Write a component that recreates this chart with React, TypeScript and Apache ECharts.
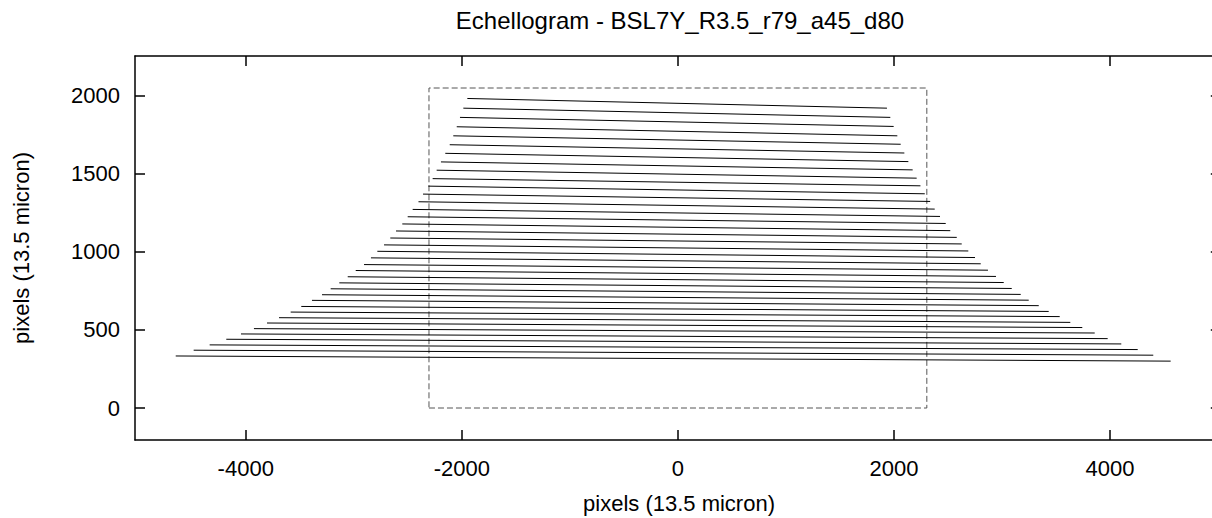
import React, { useEffect, useRef } from "react";
import * as echarts from "echarts";

// Echelle order endpoints (left end / right end), in detector pixels
const leftX = [-1949, -1986, -2017, -2047, -2079, -2112, -2153, -2193, -2233, -2270, -2310, -2359, -2401, -2455, -2501, -2551, -2609, -2662, -2720, -2782, -2841, -2905, -2982, -3056, -3134, -3214, -3294, -3387, -3486, -3584, -3692, -3803, -3924, -4044, -4180, -4334, -4482, -4648];
const leftY = [1981, 1919, 1860, 1800, 1742, 1685, 1630, 1575, 1522, 1468, 1420, 1369, 1320, 1271, 1224, 1178, 1133, 1088, 1044, 1003, 961, 918, 880, 840, 801, 763, 725, 689, 650, 614, 578, 544, 508, 474, 440, 404, 370, 333];
const rightX = [1935, 1966, 1997, 2031, 2062, 2096, 2133, 2173, 2210, 2245, 2285, 2335, 2377, 2426, 2479, 2521, 2581, 2627, 2688, 2750, 2803, 2870, 2944, 3016, 3090, 3173, 3247, 3340, 3432, 3534, 3632, 3743, 3858, 3978, 4104, 4256, 4400, 4561];
const rightY = [1919, 1860, 1802, 1742, 1688, 1632, 1577, 1524, 1471, 1422, 1371, 1322, 1273, 1226, 1181, 1135, 1092, 1050, 1005, 963, 923, 882, 842, 803, 765, 727, 690, 655, 618, 585, 548, 515, 480, 444, 410, 374, 338, 300];

// Detector outline
const detectorX = [-2304, 2304, 2304, -2304, -2304];
const detectorY = [0, 0, 2048, 2048, 0];

// Tick values
const xTicks = [-4000, -2000, 0, 2000, 4000];
const yTicks = [0, 500, 1000, 1500, 2000];

const titleText = "Echellogram - BSL7Y_R3.5_r79_a45_d80";
const axisName = "pixels (13.5 micron)";

const FONT = '"Liberation Sans", Arial, Helvetica, sans-serif';
const FS = 22;

export default function App() {
  const ref = useRef<HTMLDivElement>(null);

  useEffect(() => {
    document.body.style.margin = "0";
    if (!ref.current) return;
    const chart = echarts.init(ref.current, undefined, { renderer: "svg" });

    const xMin = -5025, xMax = 5025;
    const yMin = -204.8, yMax = 2252.8;

    const axisLine = { show: true, onZero: false, lineStyle: { color: "#000", width: 1.5 } };

    const orderSeries = leftX.map((lx, i) => ({
      type: "line",
      xAxisIndex: 0,
      yAxisIndex: 0,
      data: [
        [lx, leftY[i]],
        [rightX[i], rightY[i]],
      ],
      showSymbol: false,
      symbol: "none",
      silent: true,
      lineStyle: { color: "#000", width: 1 },
      z: 3,
    }));

    const detectorSeries = {
      type: "line",
      xAxisIndex: 0,
      yAxisIndex: 0,
      data: detectorX.map((x, i) => [x, detectorY[i]]),
      showSymbol: false,
      symbol: "none",
      silent: true,
      lineStyle: { color: "#555", width: 1, type: [6, 3] },
      z: 2,
    };

    chart.setOption({
      animation: false,
      backgroundColor: "#fff",
      grid: { left: 135, top: 56, width: 1085.8, height: 384, containLabel: false, outerBoundsMode: "none" },
      xAxis: [
        {
          type: "value",
          position: "bottom",
          min: xMin,
          max: xMax,
          axisLine,
          splitLine: { show: false },
          axisTick: { show: true, inside: true, length: 10, lineStyle: { color: "#000", width: 1.5 }, customValues: xTicks },
          axisLabel: {
            show: true,
            customValues: xTicks,
            margin: 17,
            color: "#000",
            fontSize: FS,
            fontFamily: FONT,
            formatter: (v: number) => String(v),
          },
        },
        {
          type: "value",
          position: "top",
          min: xMin,
          max: xMax,
          axisLine,
          splitLine: { show: false },
          axisTick: { show: true, inside: true, length: 10, lineStyle: { color: "#000", width: 1.5 }, customValues: xTicks },
          axisLabel: { show: false },
        },
      ],
      yAxis: [
        {
          type: "value",
          position: "left",
          min: yMin,
          max: yMax,
          axisLine,
          splitLine: { show: false },
          axisTick: { show: true, inside: true, length: 10, lineStyle: { color: "#000", width: 1.5 }, customValues: yTicks },
          axisLabel: {
            show: true,
            customValues: yTicks,
            margin: 15,
            color: "#000",
            fontSize: FS,
            fontFamily: FONT,
            formatter: (v: number) => String(v),
          },
        },
        {
          type: "value",
          position: "right",
          min: yMin,
          max: yMax,
          axisLine,
          splitLine: { show: false },
          axisTick: { show: true, inside: true, length: 10, lineStyle: { color: "#000", width: 1.5 }, customValues: yTicks },
          axisLabel: { show: false },
        },
      ],
      graphic: [
        {
          type: "text",
          x: 680,
          y: 20,
          style: { text: titleText, fill: "#000", fontSize: 24, fontFamily: FONT, align: "center", verticalAlign: "middle" },
        },
        {
          type: "text",
          x: 679,
          y: 503,
          style: { text: axisName, fill: "#000", fontSize: FS, fontFamily: FONT, align: "center", verticalAlign: "middle" },
        },
        {
          type: "text",
          x: 21,
          y: 248,
          rotation: Math.PI / 2,
          style: { text: axisName, fill: "#000", fontSize: FS, fontFamily: FONT, align: "center", verticalAlign: "middle" },
        },
      ],
      series: [detectorSeries, ...orderSeries],
    });

    return () => chart.dispose();
  }, []);

  return <div ref={ref} style={{ width: 1212, height: 518 }} />;
}
